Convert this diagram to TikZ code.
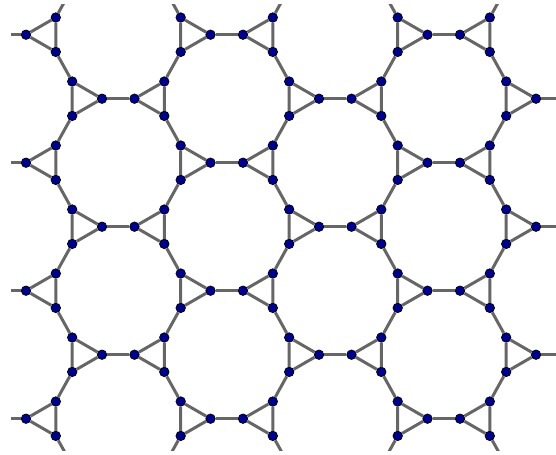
\documentclass[tikz,border=0pt]{standalone}
\usepackage{tikz}
\definecolor{bondgray}{HTML}{666666}
\definecolor{sitenavy}{HTML}{00008B}
\tikzset{
  site/.style={circle,draw=black,fill=sitenavy,line width=0.4pt,inner sep=0pt,minimum size=1.9mm},
  bond/.style={draw=bondgray,line width=1.7pt}
}
\begin{document}
\begin{tikzpicture}[x=0.2mm,y=-0.2mm]
  \useasboundingbox (0,0) rectangle (556,455);
  \begin{scope}
    \clip (11,4) rectangle (556,450);
    % triangles: A points left, B points right
    \foreach \r in {-2,...,8}{
      \foreach \k in {-5,...,4}{
        \pgfmathsetmacro{\ax}{45.9+108.5*\r+217*\k}
        \pgfmathsetmacro{\ay}{34.7+64*\r}
        \pgfmathsetmacro{\bx}{\ax-72.3}
        \node[site] (Aa-\r-\k) at (\ax-19.9,\ay) {};
        \node[site] (At-\r-\k) at (\ax+9.9,\ay-17.2) {};
        \node[site] (Ab-\r-\k) at (\ax+9.9,\ay+17.2) {};
        \node[site] (Ba-\r-\k) at (\bx+19.9,\ay) {};
        \node[site] (Bt-\r-\k) at (\bx-9.9,\ay-17.2) {};
        \node[site] (Bb-\r-\k) at (\bx-9.9,\ay+17.2) {};
        \draw[bond] (Aa-\r-\k) -- (At-\r-\k) -- (Ab-\r-\k) -- (Aa-\r-\k);
        \draw[bond] (Ba-\r-\k) -- (Bt-\r-\k) -- (Bb-\r-\k) -- (Ba-\r-\k);
      }
    }
    % links between triangles
    \foreach \r in {-1,...,7}{
      \foreach \k in {-4,...,3}{
        \pgfmathtruncatemacro{\rn}{\r+1}
        \pgfmathtruncatemacro{\rp}{\r-1}
        \pgfmathtruncatemacro{\kn}{\k+1}
        \draw[bond] (Aa-\r-\k) -- (Ba-\r-\k);
        \draw[bond] (Ab-\r-\k) -- (Bt-\rn-\k);
        \draw[bond] (At-\r-\k) -- (Bb-\rp-\kn);
      }
    }
  \end{scope}
\end{tikzpicture}
\end{document}
